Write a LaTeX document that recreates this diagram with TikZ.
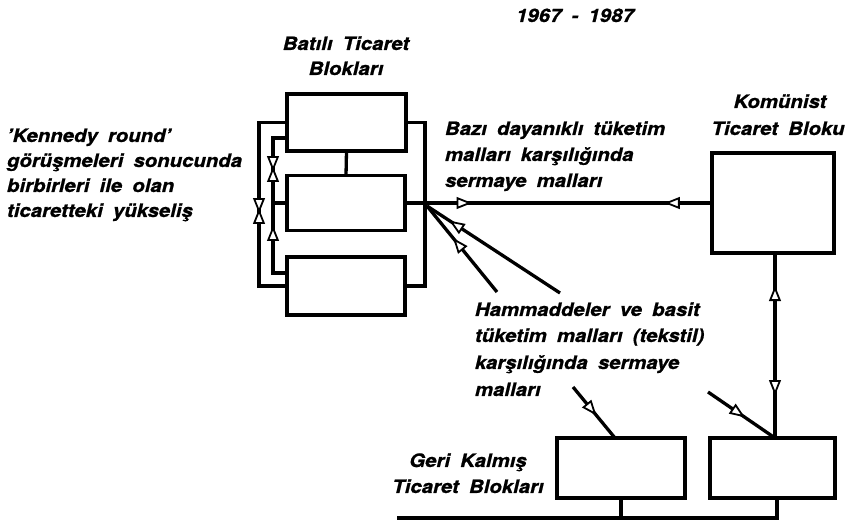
\documentclass[tikz,border=0pt]{standalone}
\usepackage{fontspec}
\setmainfont{TeX Gyre Heros}[FakeStretch=1.1,WordSpace=1.8,BoldItalicFeatures={FakeBold=0.8}]
\begin{document}
\begin{tikzpicture}[x=1pt,y=-1pt]
\tikzset{
  blk/.style={draw, rectangle, line width=3.8pt, inner sep=0pt, outer sep=0pt},
  ln/.style={line width=3.3pt},
  lbl/.style={font=\fontsize{18.5}{26}\selectfont\bfseries\itshape, inner sep=0pt, outer sep=0pt},
  tri/.pic={\draw[fill=white, line width=1.8pt, line join=miter] (0,0) -- (-12,4.8) -- (-12,-4.8) -- cycle;},
  ah/.style={sloped, allow upside down},
}
\fill[white] (0,0) rectangle (852,526);
\useasboundingbox (0,0) rectangle (852,526);

% boxes
\node[blk, minimum width=119pt, minimum height=57pt] (W1) at (346.5,122.5) {};
\node[blk, minimum width=118pt, minimum height=55pt] (W2) at (346,203) {};
\node[blk, minimum width=118pt, minimum height=58pt] (W3) at (346,286) {};
\node[blk, minimum width=122pt, minimum height=100pt] (K) at (773,203) {};
\node[blk, minimum width=128pt, minimum height=60pt] (L) at (621,468) {};
\node[blk, minimum width=125pt, minimum height=60pt] (R) at (772.5,468) {};

% helper coordinates
\coordinate (rb) at (425,0);
\coordinate (ox) at (259,0);
\coordinate (ix) at (273,0);
\coordinate (vx) at (775,0);
\coordinate (lx) at (615,0);
\coordinate (gx) at (777,0);
\coordinate (gl) at (397,518);
\coordinate (J) at (427,206);
\coordinate (d1) at (497,292);
\coordinate (d2) at (560,293);
\coordinate (e1) at (573,387);
\coordinate (e2) at (708,392);
\coordinate (i1) at ([yshift=-15.5pt]W1.west);
\coordinate (i2) at ([yshift=13pt]W3.west);

% western block connections
\draw[ln] (W1.south) -- (W2.north);
\draw[ln] (W1.east) -| (rb |- W3.east) -- (W3.east);
\draw[ln] (W1.west) -| (ox |- W3.west) -- (W3.west);
\draw[ln] (i1) -| (ix |- i2) -- (i2);
\draw[ln] (ix |- W2.west) -- (W2.west);

% main flows
\draw[ln] (W2.east) -- (K.west);
\draw[ln] (d1) -- (J);
\draw[ln] (d2) -- (J);
\draw[ln] (K.south -| vx) -- (R.north -| vx);
\draw[ln] (e1) -- (L.north -| lx);
\draw[ln] (e2) -- (R.north -| vx);

% underdeveloped bus
\draw[ln] (L.south) -- (L.south |- gl);
\draw[ln] (R.south -| gx) -- (gx |- gl) -- (gl);

% open arrowheads on the connectors
\path (ox |- W1.west) -- (ox |- W3.west)
  pic[pos=0.541, ah] {tri} pic[pos=0.541, ah, rotate=180] {tri};
\path (ix |- i1) -- (ix |- i2)
  pic[pos=0.23, ah] {tri} pic[pos=0.23, ah, rotate=180] {tri}
  pic[pos=0.667, ah, rotate=180] {tri};
\path (W2.east) -- (K.west)
  pic[pos=0.21, ah] {tri} pic[pos=0.853, ah, rotate=180] {tri};
\path (d1) -- (J) pic[pos=0.605, ah] {tri};
\path (d2) -- (J) pic[pos=0.816, ah] {tri};
\path (K.south -| vx) -- (R.north -| vx)
  pic[pos=0.19, ah, rotate=180] {tri} pic[pos=0.757, ah] {tri};
\path (e1) -- (L.north -| lx) pic[pos=0.52, ah] {tri};
\path (e2) -- (R.north -| vx) pic[pos=0.52, ah] {tri};

% texts
\node[lbl, anchor=base] (yr) at (575,22) {1967 - 1987};
\node[lbl, anchor=base] (bt1) at (346,50) {Batılı Ticaret};
\node[lbl, anchor=base] (bt2) at (346,75) {Blokları};
\node[lbl, anchor=base west] (kr1) at (7,142) {'Kennedy round'};
\node[lbl, anchor=base west] (kr2) at (7,167) {görüşmeleri sonucunda};
\node[lbl, anchor=base west] (kr3) at (7,192) {birbirleri ile olan};
\node[lbl, anchor=base west] (kr4) at (7,217) {ticaretteki yükseliş};
\node[lbl, anchor=base west] (bd1) at (445,135) {Bazı dayanıklı tüketim};
\node[lbl, anchor=base west] (bd2) at (445,161) {malları karşılığında};
\node[lbl, anchor=base west] (bd3) at (445,187) {sermaye malları};
\node[lbl, anchor=base] (kt1) at (780,108) {Komünist};
\node[lbl, anchor=base] (kt2) at (778,135) {Ticaret Bloku};
\node[lbl, anchor=base west] (hm1) at (475,316) {Hammaddeler ve basit};
\node[lbl, anchor=base west] (hm2) at (475,342) {tüketim malları (tekstil)};
\node[lbl, anchor=base west] (hm3) at (475,369) {karşılığında sermaye};
\node[lbl, anchor=base west] (hm4) at (475,396) {malları};
\node[lbl, anchor=base] (gk1) at (468,467) {Geri Kalmış};
\node[lbl, anchor=base] (gk2) at (468,493) {Ticaret Blokları};
\end{tikzpicture}
\end{document}
